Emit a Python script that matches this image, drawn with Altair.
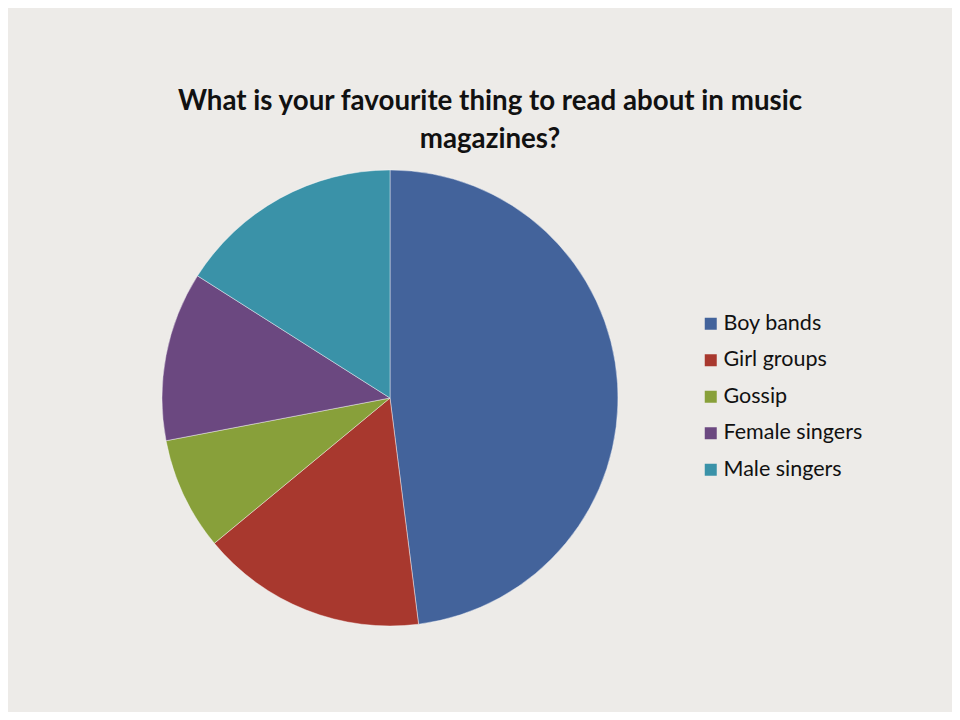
import altair as alt
import pandas as pd

categories = ["Boy bands", "Girl groups", "Gossip", "Female singers", "Male singers"]
values = [12, 4, 2, 3, 4]
colors = ["#43639b", "#a8382e", "#88a03a", "#6b4880", "#3a92a8"]
title_lines = ["What is your favourite thing to read about in music", "magazines?"]

df = pd.DataFrame({"category": categories, "value": values, "order": list(range(len(categories)))})
tdf = pd.DataFrame({"line": title_lines, "row": [0, 1]})

BG = "#edebe8"

pie = alt.Chart(df).mark_arc(radius=228, stroke="#ffffff", strokeWidth=0.6, strokeOpacity=0.7).encode(
    theta=alt.Theta("value:Q", stack=True),
    order=alt.Order("order:Q"),
    x=alt.value(382),
    y=alt.value(390),
    color=alt.Color(
        "category:N",
        sort=categories,
        scale=alt.Scale(domain=categories, range=colors),
        legend=alt.Legend(
            title=None,
            orient="none",
            legendX=692,
            legendY=305,
            symbolType="square",
            symbolSize=144,
            symbolStrokeWidth=0,
            labelFontSize=21.5,
            labelFont="Lato",
            labelColor="#111111",
            labelOffset=2,
            rowPadding=13.5,
            labelLimit=300,
        ),
    ),
)

title = alt.Chart(tdf).mark_text(
    font="Lato", fontSize=27.7, fontWeight="bold", color="#111111", align="center", baseline="alphabetic"
).encode(
    text="line:N",
    x=alt.value(482),
    y=alt.Y("row:Q", scale=alt.Scale(domain=[0, 1], range=[102, 140]), axis=None),
)

chart = alt.layer(pie, title).properties(
    width=944, height=704, background=BG,
    autosize=alt.AutoSizeParams(type="none"), padding=0,
).configure_view(stroke=None, fill=BG)

chart.save("out.html", embed_options={"renderer": "svg", "actions": False})
